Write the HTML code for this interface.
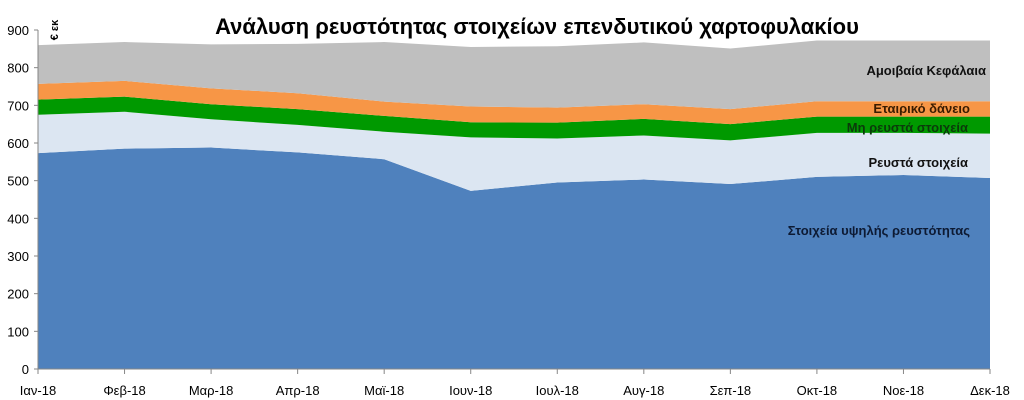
<!DOCTYPE html>
<html><head><meta charset="utf-8"><style>
body{margin:0;background:#fff;}
svg{display:block;font-family:"Liberation Sans","DejaVu Sans",sans-serif;}
</style></head><body>
<svg id="chart" width="1024" height="400">
<g id="areas"></g>
<g id="axes"></g>
<text x="537" y="34" text-anchor="middle" font-size="22" font-weight="bold" fill="#000">Ανάλυση ρευστότητας στοιχείων επενδυτικού χαρτοφυλακίου</text>
<text transform="translate(58,30) rotate(-90)" text-anchor="middle" font-size="11" font-weight="bold">€ εκ</text>
<g font-size="13" font-weight="bold" text-anchor="end">
<text x="986" y="75" fill="#111">Αμοιβαία Κεφάλαια</text>
<text x="970" y="113" fill="#3a1c00">Εταιρικό δάνειο</text>
<text x="968" y="132" fill="#0b3a0b">Μη ρευστά στοιχεία</text>
<text x="968" y="167" fill="#111">Ρευστά στοιχεία</text>
<text x="970" y="235" fill="#0d1a33">Στοιχεία υψηλής ρευστότητας</text>
</g>
</svg>
<script>
const categories=["Ιαν-18","Φεβ-18","Μαρ-18","Απρ-18","Μαϊ-18","Ιουν-18","Ιουλ-18","Αυγ-18","Σεπ-18","Οκτ-18","Νοε-18","Δεκ-18"];
const highLiquidity=[573,585,588,575,557,473,495,503,491,510,515,507];
const liquid=[102,98,75,73,73,142,117,117,116,117,112,118];
const illiquid=[40,40,40,42,42,40,42,44,43,43,43,45];
const corporateLoan=[42,42,42,42,38,42,40,39,40,41,41,41];
const mutualFunds=[103,103,117,131,158,158,163,164,161,161,161,161];
const yTicks=[0,100,200,300,400,500,600,700,800,900];
const X0=38,X1=990,Y0=369,YMAX=900,YTOP=30;
const xs=i=>X0+(X1-X0)*i/(categories.length-1);
const ys=v=>Y0-(Y0-YTOP)*v/YMAX;
const NS="http://www.w3.org/2000/svg";
const series=[[highLiquidity,"#4f81bd","area-high-liquidity"],[liquid,"#dce6f2","area-liquid"],[illiquid,"#009900","area-illiquid"],[corporateLoan,"#f79646","area-corporate-loan"],[mutualFunds,"#bfbfbf","area-mutual-funds"]];
const areas=document.getElementById("areas");
let base=categories.map(()=>0);
series.forEach(([vals,col,name])=>{
  const top=base.map((b,i)=>b+vals[i]);
  let d="M"+top.map((v,i)=>xs(i)+","+ys(v)).join(" L");
  for(let i=categories.length-1;i>=0;i--)d+=" L"+xs(i)+","+ys(base[i]);
  d+="Z";
  const p=document.createElementNS(NS,"path");
  p.setAttribute("d",d);p.setAttribute("fill",col);
  
  
  areas.appendChild(p);
  base=top;
});
const axes=document.getElementById("axes");
function el(tag,attrs,txt){const e=document.createElementNS(NS,tag);for(const k in attrs)e.setAttribute(k,attrs[k]);if(txt!==undefined)e.textContent=txt;axes.appendChild(e);return e;}
const yl=el("line",{x1:X0,y1:YTOP,x2:X0,y2:Y0,stroke:"#868686"});


const xl=el("line",{x1:X0,y1:Y0,x2:X1,y2:Y0,stroke:"#868686"});


yTicks.forEach(t=>{
  el("line",{x1:X0-4,y1:ys(t),x2:X0,y2:ys(t),stroke:"#868686"});
  const tx=el("text",{x:X0-9,y:ys(t)+5,"text-anchor":"end","font-size":"13",fill:"#000"},t);
  
  
});
categories.forEach((c,i)=>{
  el("line",{x1:xs(i),y1:Y0,x2:xs(i),y2:Y0+5,stroke:"#868686"});
  const tx=el("text",{x:xs(i),y:395,"text-anchor":"middle","font-size":"13",fill:"#000"},c);
  
  
});
</script>
</body></html>
